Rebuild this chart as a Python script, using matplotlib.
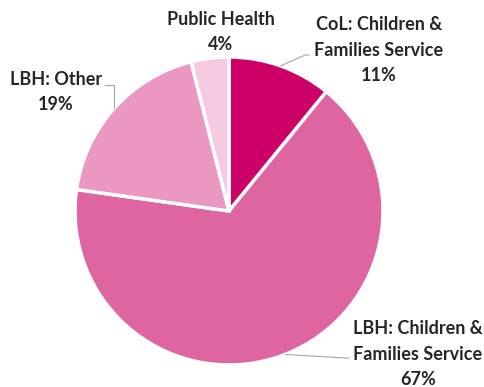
import matplotlib
matplotlib.use("Agg")
import matplotlib.pyplot as plt
import numpy as np

# Budget split by funding source (clockwise from 12 o'clock)
sources = ["CoL: Children &\nFamilies Service", "LBH: Children &\nFamilies Service",
           "LBH: Other", "Public Health"]
shares = [11, 67, 19, 4]
colors = ["#CC0066", "#DF65A0", "#EA97C1", "#F5C9DF"]

W, H = 485, 387
CX, CY, R = 229, H - 211, 154

# label anchor (centre of text block) and leader elbow, in pixel coords from top-left
label_pos = [(379, 50), (418, 354), (56, 92), (221, 32)]
leader_elbow = [(305, 55), (345, 358), (105, 85), None]

plt.rcParams["font.family"] = ["Lato", "DejaVu Sans"]

fig = plt.figure(figsize=(W / 100, H / 100), dpi=100)
ax = fig.add_axes([0, 0, 1, 1])
wedges, _ = ax.pie(shares, colors=colors, startangle=90, counterclock=False,
                   center=(CX, CY), radius=R,
                   wedgeprops=dict(edgecolor="white", linewidth=2.5))
ax.set_xlim(0, W)
ax.set_ylim(0, H)
ax.set_aspect("equal")
ax.axis("off")

for w, name, pct, (lx, ly), elbow in zip(wedges, sources, shares, label_pos, leader_elbow):
    ax.text(lx, H - ly, f"{name}\n{pct}%", ha="center", va="center",
            fontsize=13, fontweight="bold", color="#262626", linespacing=1.6)
    if elbow is None:
        continue
    mid = np.deg2rad((w.theta1 + w.theta2) / 2)
    sx, sy = CX + R * np.cos(mid), CY + R * np.sin(mid)
    ex, ey = elbow
    if name == "LBH: Other":
        ax.plot([sx, sx, ex], [sy, H - ey, H - ey], color="#A6A6A6", lw=0.8)
    else:
        ax.plot([sx, ex, ex + 4], [sy, H - ey, H - ey], color="#A6A6A6", lw=0.8)

fig.savefig("out.png", dpi=100)
